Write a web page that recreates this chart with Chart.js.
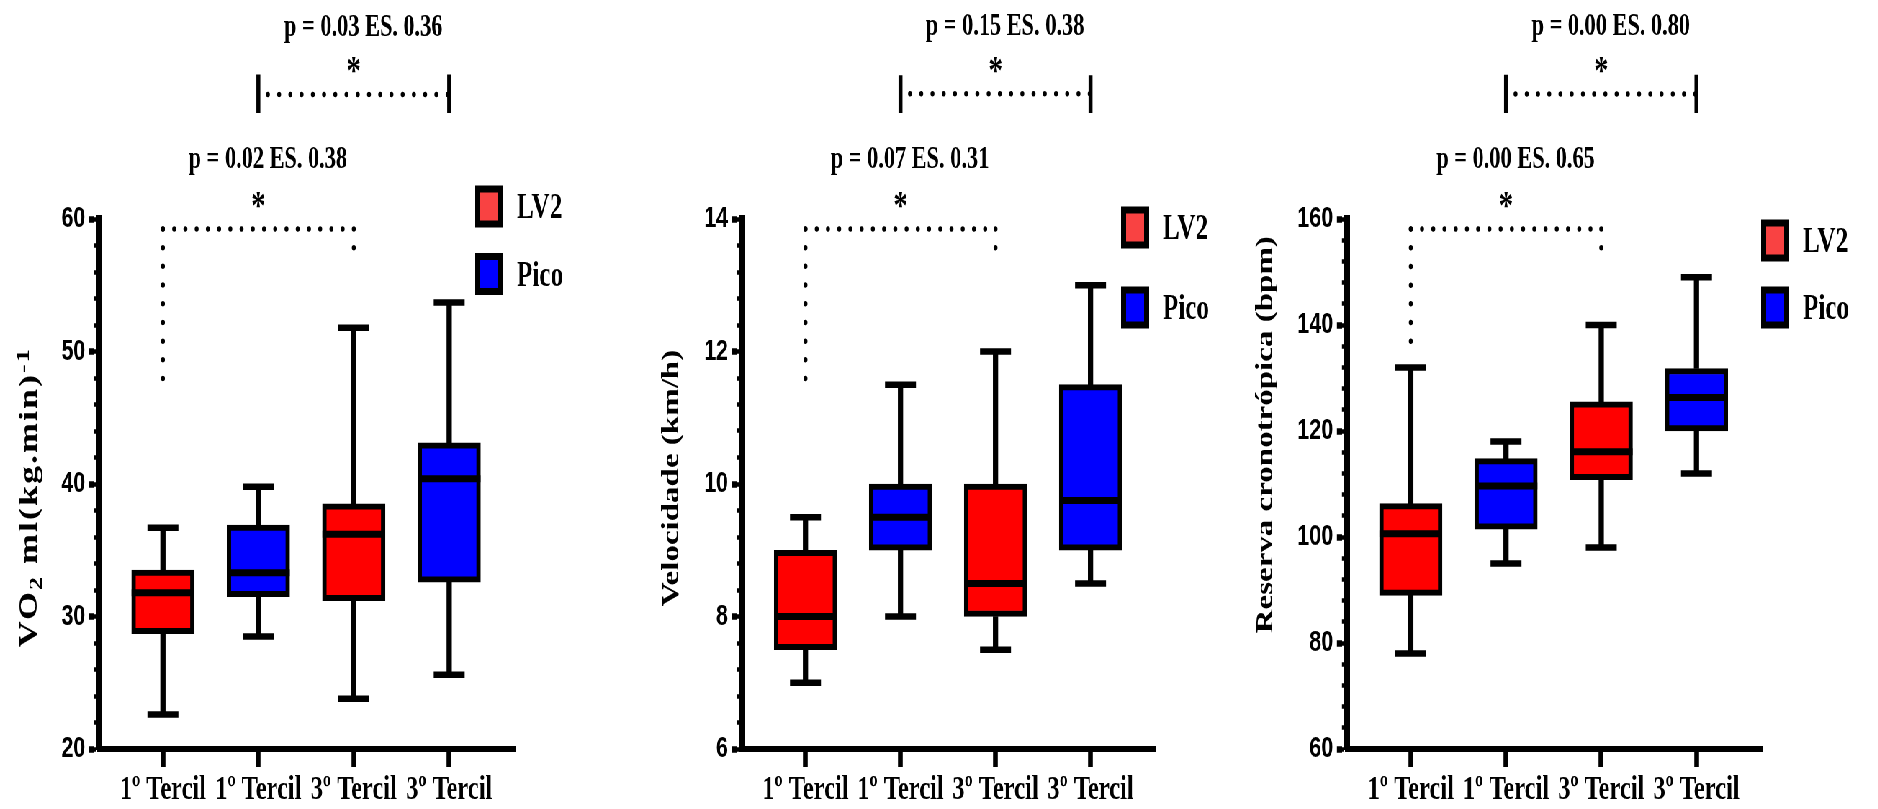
<!DOCTYPE html>
<html>
<head>
<meta charset="utf-8">
<script src="https://cdn.jsdelivr.net/npm/chart.js@4.4.1/dist/chart.umd.min.js"></script>
<style>
  html, body { margin: 0; padding: 0; background: #fff; overflow: hidden; }
  /* the original figure is squeezed horizontally, so draw wide and squeeze */
  #fig { position: absolute; left: 0; top: 0; width: 2608px; height: 809px; transform: scaleX(0.72); transform-origin: 0 0; }
  #fig canvas { position: absolute; top: 0; }
</style>
</head>
<body>
<div id="fig">
  <canvas id="vo2" width="900" height="809" style="left:0px"></canvas>
  <canvas id="vel" width="800" height="809" style="left:900px"></canvas>
  <canvas id="res" width="908" height="809" style="left:1700px"></canvas>
</div>
<script>
  const cats = ['1º Tercil', '1º Tercil', '3º Tercil', '3º Tercil'];
  const series = ['LV2', 'Pico'];
  const catSeries = [0, 1, 0, 1];

  // VO2 ml(kg.min)-1
  const vo2Min = [22.6, 28.5, 23.8, 25.6];
  const vo2Q1 = [28.7, 31.5, 31.2, 32.6];
  const vo2Med = [31.8, 33.3, 36.2, 40.4];
  const vo2Q3 = [33.5, 36.9, 38.5, 43.1];
  const vo2Max = [36.7, 39.8, 51.8, 53.7];
  const vo2Axis = [20, 60, 10, 2];
  const vo2Notes = ['p = 0.02 ES. 0.38', 'p = 0.03 ES. 0.36'];
  const vo2Lower = [59.25, 46.7, 57.8, 61.4, 64.6];
  const vo2Upper = [69.4, 68.0, 70.9, 71.6, 74.6];

  // Velocidade (km/h)
  const velMin = [7.0, 8.0, 7.5, 8.5];
  const velQ1 = [7.5, 9.0, 8.0, 9.0];
  const velMed = [8.0, 9.5, 8.5, 9.75];
  const velQ3 = [9.0, 10.0, 10.0, 11.5];
  const velMax = [9.5, 11.5, 12.0, 13.0];
  const velAxis = [6, 14, 2, 0.4];
  const velNotes = ['p = 0.07 ES. 0.31', 'p = 0.15 ES. 0.38'];
  const velLower = [13.85, 11.34, 13.56, 14.29, 14.92];
  const velUpper = [15.89, 15.6, 16.17, 16.32, 16.93];

  // Reserva cronotrópica (bpm)
  const resMin = [78, 95, 98, 112];
  const resQ1 = [89, 101.5, 110.8, 120];
  const resMed = [100.6, 109.6, 116.1, 126.3];
  const resQ3 = [106.3, 114.8, 125.5, 131.8];
  const resMax = [132, 118, 140, 149];
  const resAxis = [60, 160, 20, 4];
  const resNotes = ['p = 0.00 ES. 0.65', 'p = 0.00 ES. 0.80'];
  const resLower = [158.1, 133.6, 154.5, 163.6, 171.5];
  const resUpper = [183.6, 180.0, 187.2, 189.1, 196.6];

  const boxColors = ['#ff0000', '#0000ff'];
  const legendColors = ['#f94242', '#0000ff'];
  const serif = '"Liberation Serif", "Times New Roman", serif';

  Chart.defaults.font.family = serif;
  Chart.defaults.font.weight = 'bold';
  Chart.defaults.color = '#000';

  function boxDatasets(mins, q1, med, q3, maxs) {
    const xs = cats.map((c, i) => i + 1);
    const whisker = { type: 'bar', backgroundColor: '#000', borderWidth: 0, barThickness: 6.6, grouped: false, order: 3 };
    const mark = { type: 'line', showLine: false, pointStyle: 'line', pointBorderColor: '#000', borderColor: '#000' };
    return [
      { ...whisker, data: xs.map((x, i) => ({ x: x, y: [mins[i], q1[i]] })) },
      { ...whisker, data: xs.map((x, i) => ({ x: x, y: [q3[i], maxs[i]] })) },
      {
        type: 'bar', data: xs.map((x, i) => ({ x: x, y: [q1[i], q3[i]] })),
        backgroundColor: catSeries.map(s => boxColors[s]), borderColor: '#000', borderWidth: 6,
        borderSkipped: false, barThickness: 87, grouped: false, order: 2
      },
      { ...mark, data: xs.map((x, i) => ({ x: x, y: mins[i] })).concat(xs.map((x, i) => ({ x: x, y: maxs[i] }))), pointRadius: 21.5, pointBorderWidth: 6.5, order: 1 },
      { ...mark, data: xs.map((x, i) => ({ x: x, y: med[i] })), pointRadius: 43.5, pointBorderWidth: 7, order: 0 }
    ];
  }

  function bracketDatasets(lower, upper) {
    const base = { type: 'line', clip: false, pointRadius: 0, borderColor: '#000', borderWidth: 5.5, fill: false, spanGaps: false, order: -1 };
    return [
      { ...base, borderCapStyle: 'round', borderDash: [0, 15.6], data: [{ x: 1, y: lower[0] }, { x: 3, y: lower[0] }] },
      { ...base, borderCapStyle: 'round', borderDash: [0, 18.7], data: [{ x: 1, y: lower[0] }, { x: 1, y: lower[1] }, { x: 2, y: null }, { x: 3, y: lower[0] }, { x: 3, y: lower[2] }] },
      { ...base, borderCapStyle: 'round', borderDash: [0, 15.6], data: [{ x: 2.1, y: upper[0] }, { x: 4, y: upper[0] }] },
      { ...base, borderCapStyle: 'butt', data: [{ x: 2, y: upper[1] }, { x: 2, y: upper[2] }, { x: 3, y: null }, { x: 4, y: upper[1] }, { x: 4, y: upper[2] }] }
    ];
  }

  // p values, asterisks, axis title and legend
  const decor = {
    id: 'decor',
    afterDraw(chart, args, o) {
      const ctx = chart.ctx;
      const xs = chart.scales.x, ys = chart.scales.y;
      ctx.save();
      ctx.fillStyle = '#000';
      ctx.textAlign = 'center';
      ctx.textBaseline = 'alphabetic';
      o.notes.forEach((txt, k) => {
        const lv = k === 0 ? o.lower : o.upper;
        const mid = k === 0 ? 2 : 3;
        ctx.font = 'bold 40px ' + serif;
        const m = ctx.measureText('*');
        ctx.fillText('*', xs.getPixelForValue(mid), ys.getPixelForValue(lv[3]) + (m.actualBoundingBoxAscent - m.actualBoundingBoxDescent) / 2);
        ctx.font = 'bold 31px ' + serif;
        ctx.fillText(txt, xs.getPixelForValue(mid + 0.1), ys.getPixelForValue(lv[4]) + 0.33 * 31);
      });

      // rotated y title with sub / superscripts
      ctx.save();
      ctx.translate(o.titleX, ys.getPixelForValue(o.titleAt));
      ctx.rotate(-Math.PI / 2);
      ctx.textAlign = 'left';
      ctx.textBaseline = 'middle';
      ctx.letterSpacing = o.titleFont[2] + 'px';
      const fontFor = p => 'bold ' + (p[1] === 0 ? o.titleFont[0] : o.titleFont[1]) + 'px ' + serif;
      let total = 0;
      o.title.forEach(p => { ctx.font = fontFor(p); total += ctx.measureText(p[0]).width; });
      let cx = -total / 2;
      o.title.forEach(p => {
        ctx.font = fontFor(p);
        ctx.fillText(p[0], cx, p[1] * 9);
        cx += ctx.measureText(p[0]).width;
      });
      ctx.restore();

      // legend
      ctx.textAlign = 'left';
      ctx.textBaseline = 'alphabetic';
      series.forEach((name, s) => {
        const bx = o.legendX, by = o.legendY[s];
        ctx.fillStyle = '#000';
        ctx.fillRect(bx, by - 21, 39, 42);
        ctx.fillStyle = legendColors[s];
        ctx.fillRect(bx + 7, by - 14, 25, 28);
        ctx.fillStyle = '#000';
        ctx.font = 'bold 35px ' + serif;
        ctx.fillText(name, bx + 58, by + 0.33 * 35);
      });
      ctx.restore();
    }
  };

  function makeChart(id, p) {
    return new Chart(document.getElementById(id), {
      type: 'bar',
      data: { datasets: boxDatasets(p.min, p.q1, p.med, p.q3, p.max).concat(bracketDatasets(p.lower, p.upper)) },
      options: {
        responsive: false,
        animation: false,
        events: [],
        layout: { padding: { top: 219, bottom: 0, left: 0, right: p.padRight } },
        plugins: {
          legend: { display: false },
          tooltip: { enabled: false },
          decor: {
            notes: p.notes, lower: p.lower, upper: p.upper, title: p.title, titleFont: p.titleFont,
            titleX: p.titleX, titleAt: p.titleAt, legendX: p.legendX, legendY: p.legendY
          }
        },
        scales: {
          x: {
            type: 'linear', min: 0.33, max: 4.69, offset: false,
            afterBuildTicks: s => { s.ticks = cats.map((c, i) => ({ value: i + 1 })); },
            afterFit: s => { s.height = 60; },
            ticks: { callback: v => cats[Math.round(v) - 1], font: { size: 34, weight: 'bold' }, padding: 3, maxRotation: 0, autoSkip: false },
            grid: { offset: false, drawOnChartArea: false, tickLength: 18, tickWidth: 6.6, tickColor: '#000' },
            border: { color: '#000', width: 6 }
          },
          y: {
            type: 'linear', position: 'left', weight: 1, min: p.axis[0], max: p.axis[1],
            afterFit: s => { s.width = p.left - 7; },
            ticks: { stepSize: p.axis[2], font: { family: '"Liberation Sans", Arial, sans-serif', size: 30, weight: 'bold' }, padding: 5, autoSkip: false },
            grid: { drawOnChartArea: false, tickLength: 7, tickWidth: 6.5, tickColor: '#000' },
            border: { display: false }
          },
          y2: {
            type: 'linear', position: 'left', weight: 0, min: p.axis[0], max: p.axis[1],
            afterFit: s => { s.width = 7; },
            ticks: { display: false, stepSize: p.axis[3], autoSkip: false, maxTicksLimit: 100 },
            grid: { drawOnChartArea: false, tickLength: 7, tickWidth: 4.5, tickColor: '#000' },
            border: { color: '#000', width: 9 }
          }
        }
      },
      plugins: [decor]
    });
  }

  makeChart('vo2', {
    min: vo2Min, q1: vo2Q1, med: vo2Med, q3: vo2Q3, max: vo2Max, axis: vo2Axis,
    notes: vo2Notes, lower: vo2Lower, upper: vo2Upper,
    title: [['VO', 0], ['2', 1], [' ml(kg.min)', 0], ['-1', -1]], titleAt: 39, titleFont: [36, 26, 2],
    left: 137.5, padRight: 184.7, titleX: 42, legendX: 660, legendY: [206.5, 274]
  });
  makeChart('vel', {
    min: velMin, q1: velQ1, med: velMed, q3: velQ3, max: velMax, axis: velAxis,
    notes: velNotes, lower: velLower, upper: velUpper,
    title: [['Velocidade (km/h)', 0]], titleAt: 10.09, titleFont: [33, 22, 0],
    left: 130.3, padRight: 94.3, titleX: 33, legendX: 657, legendY: [227.5, 307.5]
  });
  makeChart('res', {
    min: resMin, q1: resQ1, med: resMed, q3: resQ3, max: resMax, axis: resAxis,
    notes: resNotes, lower: resLower, upper: resUpper,
    title: [['Reserva cronotrópica (bpm)', 0]], titleAt: 119.3, titleFont: [33, 22, 0],
    left: 170.8, padRight: 160.5, titleX: 58, legendX: 746, legendY: [240.5, 307.5]
  });
</script>
</body>
</html>
